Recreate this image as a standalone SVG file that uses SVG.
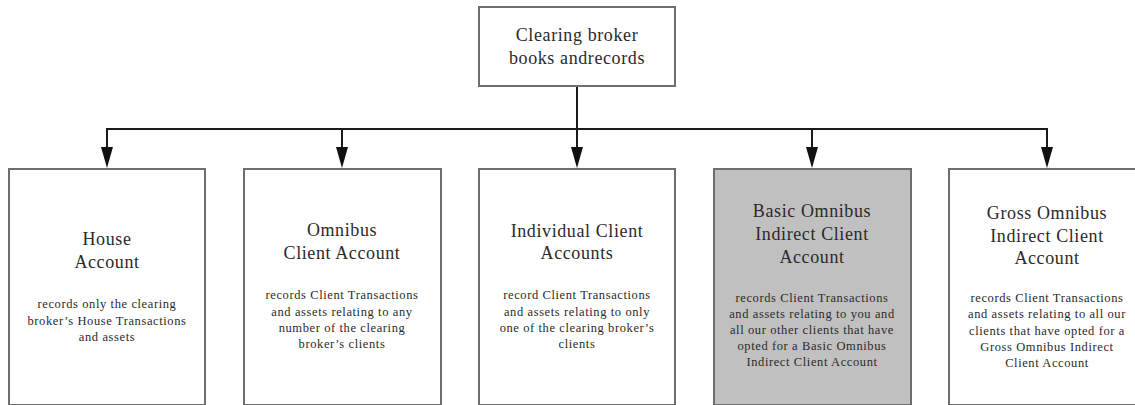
<svg xmlns="http://www.w3.org/2000/svg" width="1135" height="405" viewBox="0 0 1135 405">
<style>
.box{fill:#ffffff;stroke:#6e6e6e;stroke-width:2}
.shade{fill:#c0c0c0}
.h{font-family:"Liberation Serif","Times New Roman",serif;font-size:18px;fill:#2a2a2a;text-anchor:middle;letter-spacing:0.6px}
.b{font-family:"Liberation Serif","Times New Roman",serif;font-size:12.5px;fill:#2a2a2a;text-anchor:middle;letter-spacing:0.6px}
.c{fill:none;stroke:#1a1a1a;stroke-width:2}
.ah{fill:#111}
</style>
<rect width="1135" height="405" fill="#ffffff"/>
<g id="connectors">
<line class="c" x1="577" y1="86" x2="577" y2="150"/>
<polyline class="c" points="107,150 107,129 1047,129 1047,150"/>
<line class="c" x1="342" y1="129" x2="342" y2="150"/>
<line class="c" x1="812" y1="129" x2="812" y2="150"/>
<path class="ah" d="M101,147 L113,147 L107,168 Z"/>
<path class="ah" d="M336,147 L348,147 L342,168 Z"/>
<path class="ah" d="M571,147 L583,147 L577,168 Z"/>
<path class="ah" d="M806,147 L818,147 L812,168 Z"/>
<path class="ah" d="M1041,147 L1053,147 L1047,168 Z"/>
</g>
<g id="root">
<rect class="box" x="479" y="7" width="196" height="79"/>
<text class="h" x="577" y="41">Clearing broker</text>
<text class="h" x="577" y="64">books andrecords</text>
</g>
<g id="house">
<rect class="box" x="9" y="169" width="196" height="236"/>
<text class="h" x="107" y="245">House</text>
<text class="h" x="107" y="268">Account</text>
<text class="b" x="107" y="308">records only the clearing</text>
<text class="b" x="107" y="325">broker’s House Transactions</text>
<text class="b" x="107" y="341">and assets</text>
</g>
<g id="omnibus">
<rect class="box" x="244" y="169" width="197" height="236"/>
<text class="h" x="342" y="236">Omnibus</text>
<text class="h" x="342" y="259">Client Account</text>
<text class="b" x="342" y="299">records Client Transactions</text>
<text class="b" x="342" y="316">and assets relating to any</text>
<text class="b" x="342" y="332">number of the clearing</text>
<text class="b" x="342" y="348">broker’s clients</text>
</g>
<g id="individual">
<rect class="box" x="479" y="169" width="196" height="236"/>
<text class="h" x="577" y="237">Individual Client</text>
<text class="h" x="577" y="259">Accounts</text>
<text class="b" x="577" y="299">record Client Transactions</text>
<text class="b" x="577" y="316">and assets relating to only</text>
<text class="b" x="577" y="332">one of the clearing broker’s</text>
<text class="b" x="577" y="348">clients</text>
</g>
<g id="basic">
<rect class="box shade" x="714" y="169" width="197" height="236"/>
<text class="h" x="812" y="217">Basic Omnibus</text>
<text class="h" x="812" y="240">Indirect Client</text>
<text class="h" x="812" y="263">Account</text>
<text class="b" x="812" y="302">records Client Transactions</text>
<text class="b" x="812" y="318">and assets relating to you and</text>
<text class="b" x="812" y="334">all our other clients that have</text>
<text class="b" x="812" y="350">opted for a Basic Omnibus</text>
<text class="b" x="812" y="366">Indirect Client Account</text>
</g>
<g id="gross">
<rect class="box" x="949" y="169" width="197" height="236"/>
<text class="h" x="1047" y="219">Gross Omnibus</text>
<text class="h" x="1047" y="242">Indirect Client</text>
<text class="h" x="1047" y="264">Account</text>
<text class="b" x="1047" y="302">records Client Transactions</text>
<text class="b" x="1047" y="318">and assets relating to all our</text>
<text class="b" x="1047" y="335">clients that have opted for a</text>
<text class="b" x="1047" y="351">Gross Omnibus Indirect</text>
<text class="b" x="1047" y="367">Client Account</text>
</g>
</svg>
